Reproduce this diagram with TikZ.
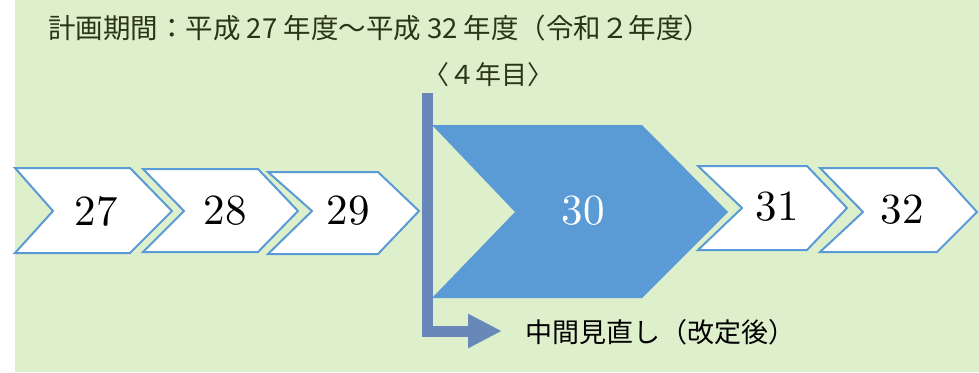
\documentclass[tikz,border=0pt]{standalone}
\usepackage{fontspec}
\usepackage{graphicx}
\newfontfamily\cjk{Noto Sans CJK JP}
\usetikzlibrary{arrows.meta}
\definecolor{bggreen}{HTML}{DEEFCC}
\definecolor{chevblue}{HTML}{5B9BD5}
\definecolor{barblue}{HTML}{6788B8}
\definecolor{titletext}{RGB}{42,52,24}
\newcommand\bignum[1]{\scalebox{4.3}{\fontsize{10}{12}\selectfont #1}}
\tikzset{
  chevbox/.style={draw=chevblue, line width=2pt, fill=white, line join=miter},
  chevmain/.style={fill=chevblue, draw=none},
  num/.style={inner sep=0pt},
  titlelbl/.style={inner sep=0pt, text=titletext, font=\cjk\fontsize{27.5}{27.5}\selectfont},
  reviewbar/.style={draw=barblue, line width=11pt, line join=miter,
    -{Triangle[width=32pt,length=34pt]}},
}
\begin{document}
\begin{tikzpicture}[x=1pt,y=-1pt]
\useasboundingbox (0,0) rectangle (979,372);
\fill[bggreen] (15,0) rectangle (979,372);

% title
\node[titlelbl, anchor=west] (title) at (48,28) {計画期間：平成 27 年度～平成 32 年度（令和２年度）};
\node[titlelbl, font=\cjk\fontsize{26}{26}\selectfont] (year4) at (488,75) {〈４年目〉};

% chevrons
\path[chevbox] (15,168) -- (130,168) -- (172,211) -- (130,253) -- (15,253) -- (53,211) -- cycle;
\node[num] (y27) at (96,211) {\bignum{27}};
\path[chevbox] (143,169) -- (258,169) -- (298,211) -- (258,252) -- (143,252) -- (184,211) -- cycle;
\node[num] (y28) at (225,211) {\bignum{28}};
\path[chevbox] (268,172) -- (378,172) -- (419,211) -- (378,254) -- (268,254) -- (312,211) -- cycle;
\node[num] (y29) at (348,211) {\bignum{29}};

\path[chevmain] (432,125) -- (642,125) -- (728,212) -- (642,298) -- (432,298) -- (515,212) -- cycle;
\node[num, text=white] (y30) at (583,211) {\bignum{30}};

\path[chevbox] (698,166) -- (807,166) -- (847,208) -- (807,250) -- (698,250) -- (742,208) -- cycle;
\node[num] (y31) at (777,207) {\bignum{31}};
\path[chevbox] (820,168) -- (937,168) -- (977,212) -- (937,252) -- (820,252) -- (863,212) -- cycle;
\node[num] (y32) at (902,210) {\bignum{32}};

% review arrow
\node[inner sep=0pt, anchor=west, font=\cjk\fontsize{27}{27}\selectfont] (review) at (525,332) {中間見直し（改定後）};
\coordinate (bartop) at (427.5,93);
\coordinate (arrowend) at (502,331);
\draw[reviewbar] (bartop) |- (arrowend);
\end{tikzpicture}
\end{document}
